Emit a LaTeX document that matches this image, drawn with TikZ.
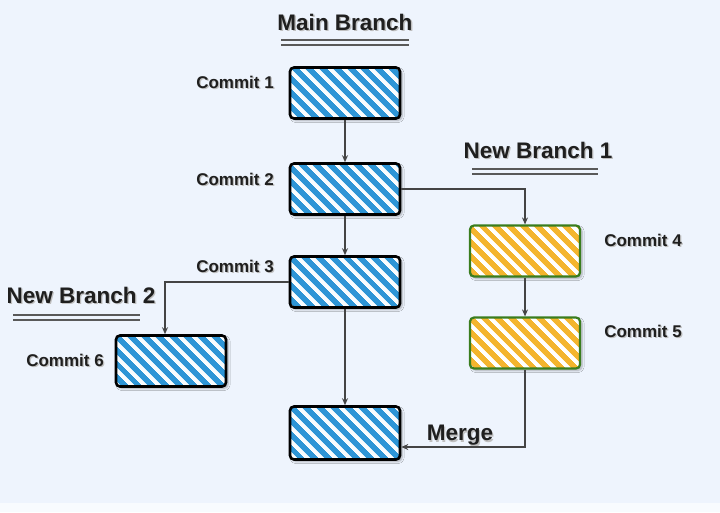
\documentclass[tikz,border=0pt]{standalone}
\usepackage{fontspec}
\setmainfont{Liberation Sans}
\usetikzlibrary{patterns.meta,shadows.blur,arrows.meta}
\definecolor{bg}{HTML}{EEF4FD}
\definecolor{cblue}{HTML}{2E95D6}
\definecolor{cyel}{HTML}{F4B52E}
\definecolor{cgreen}{HTML}{3A7D1E}
\definecolor{lnk}{HTML}{444444}
\newcommand{\shtxt}[1]{\rlap{\textcolor{black!25}{\hspace{1.3pt}\raisebox{-1.3pt}{#1}}}#1}
\tikzset{
  commitbox/.style={draw=black, line width=2.6pt, rounded corners=4pt,
    minimum width=110pt, minimum height=51pt, inner sep=0pt,
    blur shadow={shadow xshift=2pt, shadow yshift=-2pt, shadow blur steps=6, shadow opacity=30},
    preaction={fill=white!85!cblue!20},
    preaction={pattern={Lines[angle=-45,distance=10.5pt,line width=6pt]}, pattern color=cblue}},
  branchbox/.style={commitbox, draw=cgreen, line width=2.2pt,
    preaction={fill=white},
    preaction={pattern={Lines[angle=-45,distance=10.5pt,line width=6pt]}, pattern color=cyel}},
  lbl/.style={font=\bfseries\fontsize{17}{20}\selectfont, text=black!88, inner sep=0pt},
  title/.style={font=\bfseries\fontsize{22.5}{26}\selectfont, text=black!88, inner sep=0pt},
  conn/.style={draw=lnk, line width=1.1pt, -{Stealth[length=7pt,width=6pt]}},
  uline/.style={draw=black!65, line width=1.8pt}
}
\begin{document}
\begin{tikzpicture}[x=1pt,y=-1pt]
\fill[bg] (0,0) rectangle (720,512);
\fill[white!60!bg] (0,503) rectangle (720,512);
\useasboundingbox (0,0) rectangle (720,512);

% titles
\node[title] (tmain) at (345,23) {\shtxt{Main Branch}};
\draw[uline] (281,40) -- (409,40);
\draw[uline] (281,45) -- (409,45);
\node[title] (tnb1) at (538,151) {\shtxt{New Branch 1}};
\draw[uline] (472,169) -- (598,169);
\draw[uline] (472,174) -- (598,174);
\node[title] (tnb2) at (81,296) {\shtxt{New Branch 2}};
\draw[uline] (13,315) -- (140,315);
\draw[uline] (13,320) -- (140,320);

% boxes
\node[commitbox] (c1) at (345,93) {};
\node[commitbox] (c2) at (345,189) {};
\node[commitbox] (c3) at (345,282) {};
\node[commitbox, minimum height=53pt] (cm) at (345,433) {};
\node[branchbox] (c4) at (525,251) {};
\node[branchbox] (c5) at (525,343) {};
\node[commitbox] (c6) at (171,361) {};

% labels
\node[lbl] (l1) at (235,83) {\shtxt{Commit 1}};
\node[lbl] (l2) at (235,180) {\shtxt{Commit 2}};
\node[lbl] (l3) at (235,267) {\shtxt{Commit 3}};
\node[lbl] (l4) at (643,241) {\shtxt{Commit 4}};
\node[lbl] (l5) at (643,332) {\shtxt{Commit 5}};
\node[lbl] (l6) at (65,361) {\shtxt{Commit 6}};
\node[title] (lm) at (460,436) {\shtxt{Merge}};

% connectors
\draw[conn] (c1) -- (c2);
\draw[conn] (c2) -- (c3);
\draw[conn] (c3) -- (cm);
\draw[conn] (c4) -- (c5);
\draw[conn] (c2.east) -| (c4.north);
\draw[conn] (c3.west) -| ([xshift=-6pt]c6.north);
\draw[conn] (c5.south) |- ([yshift=-14pt]cm.east);
\end{tikzpicture}
\end{document}
